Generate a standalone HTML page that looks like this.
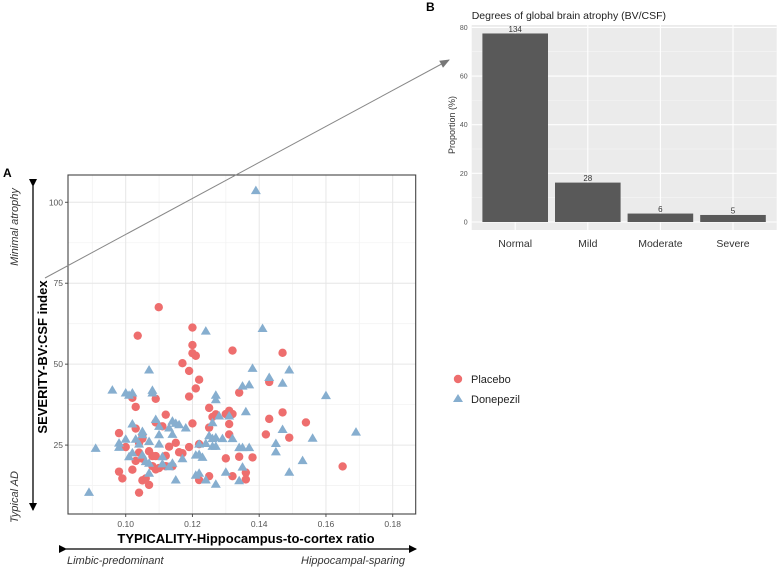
<!DOCTYPE html>
<html><head><meta charset="utf-8"><style>
body{margin:0;background:#fff;}
svg{display:block;font-family:"Liberation Sans",Arial,sans-serif;}
</style></head><body>
<svg id="fig" width="777" height="570" viewBox="0 0 777 570" xmlns="http://www.w3.org/2000/svg">
<defs>
<marker id="ah" markerWidth="8" markerHeight="8" refX="7" refY="4" orient="auto" markerUnits="userSpaceOnUse"><path d="M0,0 L8,4 L0,8 z" fill="#000"/></marker>
<marker id="ah2" markerWidth="10" markerHeight="8" refX="9" refY="4" orient="auto" markerUnits="userSpaceOnUse"><path d="M0,0 L10,4 L0,8 z" fill="#777"/></marker>
</defs>
<g id="scatter"></g>
<g id="bars"></g>
<text x="3" y="177" font-size="12" font-weight="bold">A</text>
<text x="426" y="11" font-size="12" font-weight="bold">B</text>
<line x1="33" y1="186" x2="33" y2="510" stroke="#000" stroke-width="1.3" marker-start="url(#ah)" marker-end="url(#ah)"/>
<text transform="translate(18,227) rotate(-90)" text-anchor="middle" font-size="11" font-style="italic" fill="#333">Minimal atrophy</text>
<text transform="translate(18,497) rotate(-90)" text-anchor="middle" font-size="11" font-style="italic" fill="#333">Typical AD</text>
<text transform="translate(47,357) rotate(-90)" text-anchor="middle" font-size="13" font-weight="bold">SEVERITY-BV:CSF index</text>
<text x="246" y="543" text-anchor="middle" font-size="13" font-weight="bold">TYPICALITY-Hippocampus-to-cortex ratio</text>
<line x1="66" y1="549" x2="416" y2="549" stroke="#000" stroke-width="1.3" marker-start="url(#ah)" marker-end="url(#ah)"/>
<text x="67" y="564" font-size="11" font-style="italic" fill="#333">Limbic-predominant</text>
<text x="405" y="564" text-anchor="end" font-size="11" font-style="italic" fill="#333">Hippocampal-sparing</text>
<line x1="45" y1="278" x2="449" y2="60" stroke="#888" stroke-width="1" marker-end="url(#ah2)"/>
<g>
<circle cx="458" cy="379" r="4.2" fill="#EE6E6E"/>
<text x="471" y="383" font-size="11" fill="#222">Placebo</text>
<path d="M458,394 L463,402 L453,402 z" fill="#86AECF"/>
<text x="471" y="403" font-size="11" fill="#222">Donepezil</text>
</g>
</svg>
<script>
const placeboX=[0.1099,0.1036,0.120,0.120,0.120,0.121,0.117,0.119,0.122,0.121,0.119,0.132,0.147,0.143,0.134,0.102,0.109,0.103,0.112,0.125,0.126,0.127,0.130,0.131,0.132,0.147,0.143,0.154,0.098,0.103,0.105,0.105,0.109,0.111,0.120,0.125,0.131,0.131,0.142,0.149,0.100,0.104,0.115,0.113,0.119,0.122,0.104,0.107,0.116,0.117,0.105,0.108,0.109,0.112,0.103,0.130,0.134,0.138,0.108,0.109,0.110,0.112,0.114,0.102,0.098,0.099,0.125,0.132,0.136,0.136,0.105,0.106,0.122,0.107,0.104,0.165];
const placeboY=[67.6,58.8,61.3,55.9,53.4,52.6,50.3,47.9,45.2,42.5,40.0,54.2,53.5,44.5,41.2,39.6,39.3,36.8,34.4,36.5,33.7,34.5,34.6,35.6,34.6,35.1,33.1,32.0,28.7,30.1,27.9,27.0,32.0,30.8,31.7,30.4,31.5,28.3,28.3,27.3,24.4,25.7,25.7,24.5,24.4,25.3,22.7,23.1,22.8,22.5,20.8,21.6,21.6,21.7,20.1,20.9,21.4,21.2,18.5,17.5,17.9,18.5,18.5,17.4,16.8,14.7,15.4,15.4,16.5,14.4,14.1,14.7,14.2,12.7,10.3,18.4];
const donepezilX=[0.139,0.124,0.141,0.107,0.138,0.149,0.143,0.147,0.135,0.137,0.096,0.100,0.101,0.102,0.108,0.108,0.127,0.127,0.160,0.128,0.131,0.136,0.102,0.109,0.110,0.114,0.115,0.116,0.113,0.114,0.118,0.126,0.105,0.105,0.100,0.098,0.098,0.103,0.104,0.110,0.110,0.107,0.125,0.126,0.127,0.147,0.129,0.132,0.156,0.169,0.091,0.122,0.124,0.126,0.127,0.134,0.135,0.137,0.145,0.145,0.101,0.102,0.105,0.111,0.117,0.121,0.122,0.123,0.106,0.107,0.111,0.113,0.114,0.153,0.135,0.107,0.121,0.122,0.130,0.149,0.115,0.124,0.127,0.134,0.089];
const donepezilY=[103.6,60.2,61.0,48.2,48.7,48.2,45.9,44.1,43.2,43.6,42.0,41.1,40.4,41.1,41.9,41.1,40.4,39.0,40.3,34.0,34.0,35.3,31.5,32.9,30.8,32.4,31.7,31.3,30.3,28.3,30.3,31.9,29.2,28.2,26.8,25.6,24.3,26.8,25.3,28.2,25.3,26.1,27.9,27.0,27.3,29.8,27.0,27.0,27.1,29.0,24.0,25.3,25.5,24.6,24.6,24.2,24.2,24.2,25.5,22.9,21.4,22.6,21.9,21.4,20.8,21.9,22.1,21.2,19.9,19.4,19.2,18.3,19.4,20.2,18.2,16.3,15.7,16.3,16.6,16.6,14.2,14.2,12.9,14.0,10.4];
const xTicks=[0.10,0.12,0.14,0.16,0.18];
const yTicks=[25,50,75,100];
const barCats=["Normal","Mild","Moderate","Severe"];
const barVals=[77.5,16.2,3.47,2.89];
const barCounts=["134","28","6","5"];
const barTicks=[0,20,40,60,80];

const NS="http://www.w3.org/2000/svg";
function mk(parent,tag,attrs){const e=document.createElementNS(NS,tag);for(const k in attrs)e.setAttribute(k,attrs[k]);parent.appendChild(e);return e;}
const sx=v=>125.7+(v-0.10)*3337.5;
const sy=v=>202.3+(100-v)*3.2373;
const L=68,R=415.7,T=175,B=514;
const sc=document.getElementById('scatter');
let e;
e=mk(sc,'rect',{x:L,y:T,width:R-L,height:B-T,fill:'#fff'});


for(let v=0.09;v<=0.185;v+=0.02){e=mk(sc,'line',{x1:sx(v),x2:sx(v),y1:T,y2:B,stroke:'#f3f3f3','stroke-width':0.8});

}
[12.5,37.5,62.5,87.5].forEach(v=>{e=mk(sc,'line',{x1:L,x2:R,y1:sy(v),y2:sy(v),stroke:'#f3f3f3','stroke-width':0.8});

});
xTicks.forEach(v=>{e=mk(sc,'line',{x1:sx(v),x2:sx(v),y1:T,y2:B,stroke:'#e6e6e6','stroke-width':1});


e=mk(sc,'line',{x1:sx(v),x2:sx(v),y1:B,y2:B+3,stroke:'#555'});


e=mk(sc,'text',{x:sx(v),y:B+13,'text-anchor':'middle','font-size':8.5,fill:'#555'});e.textContent=v.toFixed(2);

});
yTicks.forEach(v=>{e=mk(sc,'line',{x1:L,x2:R,y1:sy(v),y2:sy(v),stroke:'#e6e6e6','stroke-width':1});


e=mk(sc,'line',{x1:L-3,x2:L,y1:sy(v),y2:sy(v),stroke:'#555'});


e=mk(sc,'text',{x:L-5,y:sy(v)+3,'text-anchor':'end','font-size':8.5,fill:'#555'});e.textContent=v;

});
placeboX.forEach((x,i)=>{e=mk(sc,'circle',{cx:sx(x),cy:sy(placeboY[i]),r:4.2,fill:'#EE6E6E'});

});
donepezilX.forEach((x,i)=>{const cx=sx(x),cy=sy(donepezilY[i]);
e=mk(sc,'path',{d:`M${cx},${cy-5} L${cx+5},${cy+3.5} L${cx-5},${cy+3.5} z`,fill:'#86AECF'});

});
e=mk(sc,'rect',{x:L,y:T,width:R-L,height:B-T,fill:'none',stroke:'#444','stroke-width':1.1});



// bar chart
const bg=document.getElementById('bars');
const bL=471.7,bR=776.7,bT=25,bB=230;
const by=v=>222-v*2.4325;
const bx=i=>515.2+i*72.6;
e=mk(bg,'rect',{x:bL,y:bT,width:bR-bL,height:bB-bT,fill:'#ebebeb'});


[10,30,50,70].forEach(v=>{e=mk(bg,'line',{x1:bL,x2:bR,y1:by(v),y2:by(v),stroke:'#f5f5f5','stroke-width':0.6});

});
barTicks.forEach(v=>{e=mk(bg,'line',{x1:bL,x2:bR,y1:by(v),y2:by(v),stroke:'#fff','stroke-width':1.1});


e=mk(bg,'text',{x:bL-4,y:by(v)+2.5,'text-anchor':'end','font-size':7,fill:'#555'});e.textContent=v;

});
barCats.forEach((c,i)=>{e=mk(bg,'line',{x1:bx(i),x2:bx(i),y1:bT,y2:bB,stroke:'#fff','stroke-width':1.1});


e=mk(bg,'rect',{x:bx(i)-32.8,y:by(barVals[i]),width:65.6,height:by(0)-by(barVals[i]),fill:'#595959'});


e=mk(bg,'text',{x:bx(i),y:by(barVals[i])-1.5,'text-anchor':'middle','font-size':8,fill:'#333'});e.textContent=barCounts[i];


e=mk(bg,'text',{x:bx(i),y:247,'text-anchor':'middle','font-size':10.5,fill:'#333'});e.textContent=c;

});
e=mk(bg,'text',{x:bL,y:19,'font-size':10.5,fill:'#222'});e.textContent='Degrees of global brain atrophy (BV/CSF)';


e=mk(bg,'text',{transform:'translate(455,125) rotate(-90)','text-anchor':'middle','font-size':9,fill:'#333'});e.textContent='Proportion (%)';


</script>
</body></html>
